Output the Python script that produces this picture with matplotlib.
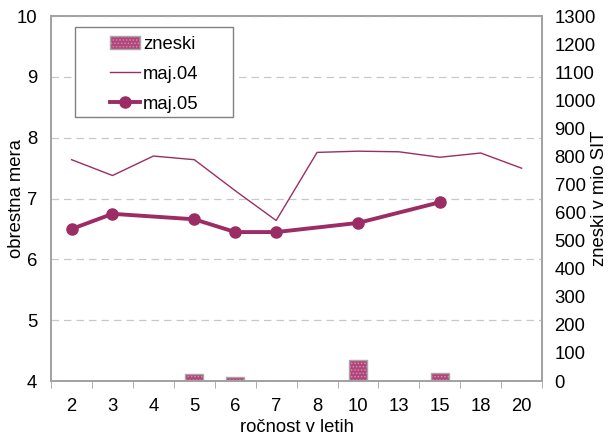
import numpy as np
from matplotlib import rcParams
from matplotlib import pyplot as plt
from matplotlib.patches import Rectangle

rcParams['font.family'] = 'Liberation Sans'
rcParams['font.size'] = 13.3
rcParams['hatch.linewidth'] = 0.7

# data
maturities = ['2', '3', '4', '5', '6', '7', '8', '10', '13', '15', '18', '20']
rate_may04 = [7.64, 7.38, 7.70, 7.64, 7.13, 6.64, 7.76, 7.78, 7.77, 7.68, 7.75, 7.50]
rate_may05 = [6.50, 6.75, None, 6.66, 6.45, 6.45, None, 6.60, None, 6.94, None, None]
amounts = [0, 2, 0, 25, 13, 2, 0, 76, 0, 28, 0, 0]

line_color = '#9b2d64'
grid_color = '#c8c8c8'
frame_color = '#a0a0a0'

x = np.arange(len(maturities))

fig = plt.figure(figsize=(6.16, 4.37), dpi=100)
ax = fig.add_axes([0.083, 0.128, 0.797, 0.835])
ax2 = ax.twinx()

# bars on right axis, lines on left axis drawn on top
ax.set_zorder(ax2.get_zorder() + 1)
ax.patch.set_visible(False)

bars = ax2.bar(x, amounts, width=0.44, facecolor='#b0457a', edgecolor='#d58db0',
               hatch='.....', linewidth=0)
bar_edges = ax2.bar(x, amounts, width=0.44, fill=False, edgecolor='#a8a8a8', linewidth=1.0)
ax2.set_ylim(0, 1300)
ax2.set_yticks(np.arange(0, 1301, 100))
ax2.set_ylabel('zneski v mio SIT')
ax2.yaxis.set_label_coords(1.100, 0.5)
ax2.tick_params(axis='y', length=0, pad=9)

l04, = ax.plot(x, rate_may04, color=line_color, lw=1)
idx = [i for i, v in enumerate(rate_may05) if v is not None]
l05, = ax.plot(x[idx], [rate_may05[i] for i in idx], color=line_color, lw=2.8,
               marker='o', markersize=8)

ax.set_xlim(-0.5, len(maturities) - 0.5)
ax.set_ylim(4, 10)
ax.set_yticks(range(4, 11))
ax.set_xticks(x)
ax.set_xticklabels(maturities)
ax.set_xticks(np.arange(-0.5, len(maturities), 1), minor=True)
ax.tick_params(axis='x', which='major', length=0, pad=12)
ax.tick_params(axis='x', which='minor', length=5, color=frame_color)
ax.tick_params(axis='y', length=0, pad=10)
ax.set_xlabel('ročnost v letih', labelpad=3)
ax.set_ylabel('obrestna mera')
ax.yaxis.set_label_coords(-0.053, 0.5)
ax.yaxis.grid(True, color=grid_color, linestyle=(0, (6, 4)), lw=0.9)

for a in (ax, ax2):
    for s in a.spines.values():
        s.set_color(frame_color)
        s.set_linewidth(1.2)

# legend box drawn separately (wide side padding like the original)
ax.add_patch(Rectangle((0.049, 0.723), 0.322, 0.247, transform=ax.transAxes,
                       facecolor='white', edgecolor='#808080', lw=1.0, zorder=4))
leg = ax.legend([(bars, bar_edges), l04, l05], ['zneski', 'maj.04', 'maj.05'],
                loc='upper left', bbox_to_anchor=(0.12, 0.947),
                frameon=False, fontsize=13.3,
                handlelength=1.6, borderpad=0, labelspacing=0.71, handletextpad=0.2,
                borderaxespad=0)
leg.set_zorder(5)

fig.savefig('out.png', dpi=100)
